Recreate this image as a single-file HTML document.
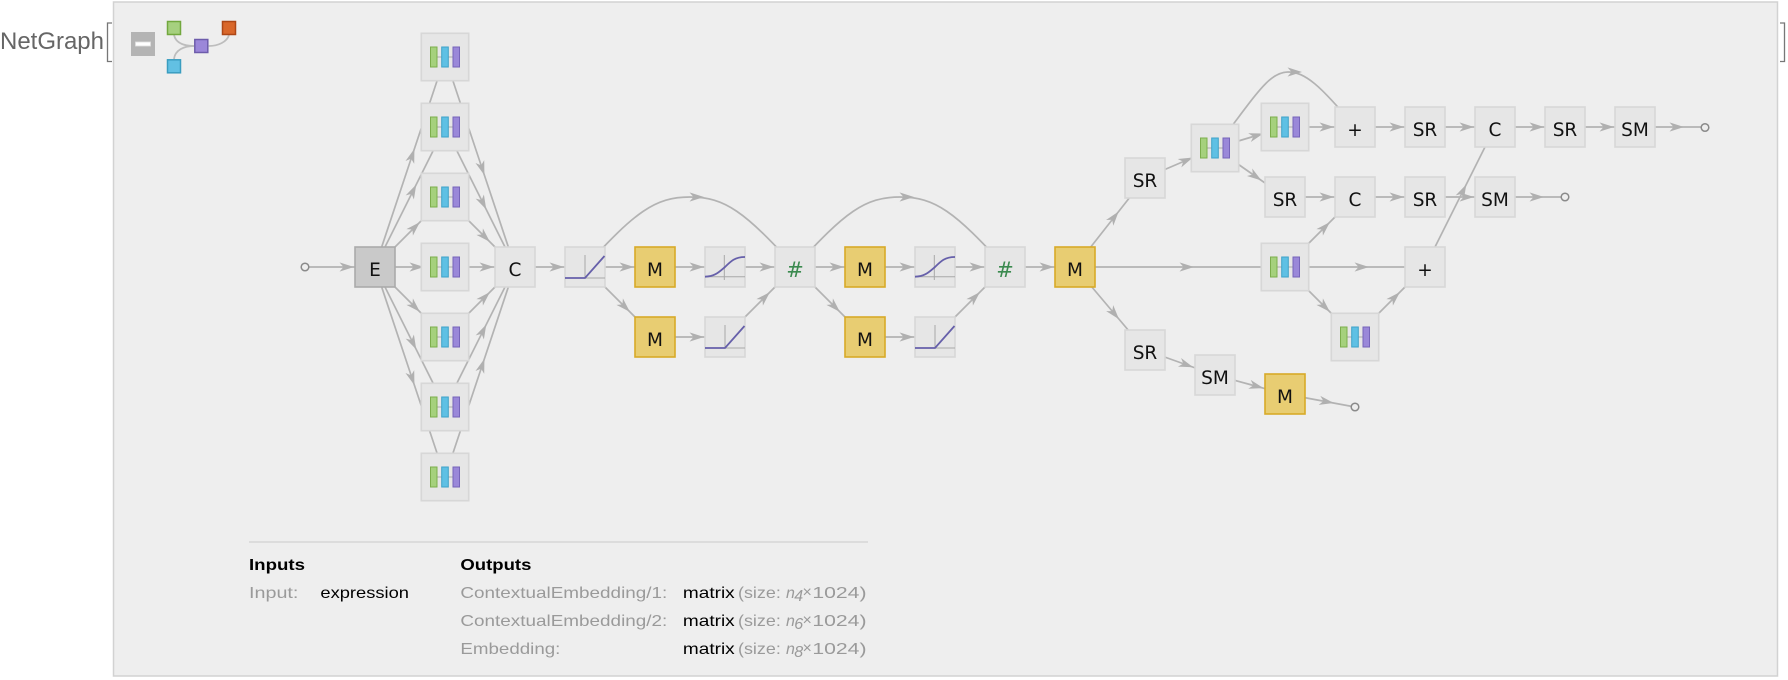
<!DOCTYPE html>
<html><head><meta charset="utf-8"><style>
html,body{margin:0;padding:0;background:#fff;}
svg{display:block;}
.e{fill:none;stroke:#b3b3b3;stroke-width:1.7;marker-mid:url(#ar);}
.t{font-family:"DejaVu Sans","Liberation Sans",sans-serif;font-size:18.5px;fill:#111;text-anchor:middle;}
.h{font-family:"DejaVu Sans","Liberation Sans",sans-serif;font-size:21px;fill:#3b8a4f;text-anchor:middle;}
.b{font-family:"Liberation Sans",sans-serif;font-size:16px;}
</style></head><body>
<svg width="1788" height="680" viewBox="0 0 1788 680" xmlns="http://www.w3.org/2000/svg">
<defs>
<marker id="ar" markerUnits="userSpaceOnUse" orient="auto" refX="0" refY="0" markerWidth="16" markerHeight="10" style="overflow:visible"><path d="M-0.5,-4.6 L14,0 L-0.5,4.6 L3.5,0 Z" fill="#b0b0b0"/></marker>
<g id="lay"><rect x="-23.7" y="-23.7" width="47.4" height="47.4" fill="#e6e6e6" stroke="#d7d7d7" stroke-width="1.6"/><line x1="-8" y1="0" x2="8" y2="0" stroke="#ababab" stroke-width="1"/><rect x="-14.5" y="-10" width="6.5" height="20" fill="#a5d17c" stroke="#7cae4c"/><rect x="-3.3" y="-10" width="6.6" height="20" fill="#5fc0e4" stroke="#3ea2c9"/><rect x="8" y="-10" width="6.5" height="20" fill="#9a88d9" stroke="#7664b9"/></g>
<rect id="nod" x="-20" y="-20" width="40" height="40" fill="#e6e6e6" stroke="#d7d7d7" stroke-width="1.6"/>
<rect id="mn" x="-20" y="-20" width="40" height="40" fill="#e8cd72" stroke="#d8aa28" stroke-width="1.6"/>
<g id="ramp"><use href="#nod"/><line x1="-20" y1="11" x2="20" y2="11" stroke="#a8a8a8" stroke-width="1"/><line x1="0" y1="-12" x2="0" y2="11" stroke="#a8a8a8" stroke-width="1"/><path d="M-20,11 L0,11 L19.5,-11" fill="none" stroke="#6660aa" stroke-width="1.8"/></g>
<g id="sig"><use href="#nod"/><line x1="-20" y1="9.7" x2="20" y2="9.7" stroke="#a8a8a8" stroke-width="1"/><line x1="-0.7" y1="-12" x2="-0.7" y2="13" stroke="#a8a8a8" stroke-width="1"/><path d="M-20,9.7 C-10,9.5 -6,5 0,0 C6,-6 10,-10 20,-10" fill="none" stroke="#6660aa" stroke-width="1.8"/></g>
</defs>

<!-- header -->
<text x="0" y="49" font-family="Liberation Sans, sans-serif" font-size="24" fill="#666" textLength="104" lengthAdjust="spacingAndGlyphs">NetGraph</text>
<path d="M112,23 L107.5,23 L107.5,61.5 L112,61.5" fill="none" stroke="#777" stroke-width="1.3"/>
<path d="M1780,23 L1784.5,23 L1784.5,61.5 L1780,61.5" fill="none" stroke="#777" stroke-width="1.3"/>

<!-- frame -->
<rect x="113.5" y="2" width="1664" height="674" fill="#eeeeee" stroke="#d2d2d2" stroke-width="1.5"/>

<!-- mini icon -->
<rect x="131" y="32" width="24" height="24" fill="#b4b4b4"/>
<rect x="135.5" y="42" width="15" height="4" fill="#fff" stroke="#e0e0e0" stroke-width="0.8"/>
<g fill="none" stroke="#bdbdbd" stroke-width="1.8">
<path d="M174,35 C176,44 186,46 194,46"/>
<path d="M194,46 C184,46 175,50 174,59"/>
<path d="M208.7,46 C218,46 227,42 229,35"/>
</g>
<rect x="167.5" y="21.5" width="13" height="13" fill="#a6d07f" stroke="#72a83e" stroke-width="1.5"/>
<rect x="194.8" y="39.5" width="13" height="13" fill="#9b87d9" stroke="#6d5cab" stroke-width="1.5"/>
<rect x="222.5" y="21.5" width="13" height="13" fill="#d9672a" stroke="#ad4716" stroke-width="1.5"/>
<rect x="167.5" y="59.8" width="13" height="13" fill="#62c0e3" stroke="#3a9dc0" stroke-width="1.5"/>

<!-- edges -->
<g>
<path class="e" d="M305,267 L340,267 L375,267"/>
<path class="e" d="M375,267 L410,162 L445,57"/>
<path class="e" d="M375,267 L410,197 L445,127"/>
<path class="e" d="M375,267 L410,232 L445,197"/>
<path class="e" d="M375,267 L410,267 L445,267"/>
<path class="e" d="M375,267 L410,302 L445,337"/>
<path class="e" d="M375,267 L410,337 L445,407"/>
<path class="e" d="M375,267 L410,372 L445,477"/>
<path class="e" d="M445,57 L480,162 L515,267"/>
<path class="e" d="M445,127 L480,197 L515,267"/>
<path class="e" d="M445,197 L480,232 L515,267"/>
<path class="e" d="M445,267 L480,267 L515,267"/>
<path class="e" d="M445,337 L480,302 L515,267"/>
<path class="e" d="M445,407 L480,337 L515,267"/>
<path class="e" d="M445,477 L480,372 L515,267"/>
<path class="e" d="M515,267 L550,267 L585,267"/>
<path class="e" d="M585,267 L620,267 L655,267"/>
<path class="e" d="M585,267 L620,302 L655,337"/>
<path class="e" d="M585,267 C635,212 655,197 690,197 C725,197 745,212 795,267"/>
<path class="e" d="M655,267 L690,267 L725,267"/>
<path class="e" d="M725,267 L760,267 L795,267"/>
<path class="e" d="M655,337 L690,337 L725,337"/>
<path class="e" d="M725,337 L760,302 L795,267"/>
<path class="e" d="M795,267 L830,267 L865,267"/>
<path class="e" d="M795,267 L830,302 L865,337"/>
<path class="e" d="M795,267 C845,212 865,197 900,197 C935,197 955,212 1005,267"/>
<path class="e" d="M865,267 L900,267 L935,267"/>
<path class="e" d="M935,267 L970,267 L1005,267"/>
<path class="e" d="M865,337 L900,337 L935,337"/>
<path class="e" d="M935,337 L970,302 L1005,267"/>
<path class="e" d="M1005,267 L1040,267 L1075,267"/>
<path class="e" d="M1075,267 L1110,222.5 L1145,178"/>
<path class="e" d="M1075,267 L1180,267 L1285,267"/>
<path class="e" d="M1075,267 L1110,308.5 L1145,350"/>
<path class="e" d="M1145,178 L1180,163 L1215,148"/>
<path class="e" d="M1215,148 L1250,137.5 L1285,127"/>
<path class="e" d="M1215,148 L1250,172.5 L1285,197"/>
<path class="e" d="M1215,148 C1255,97 1268,72 1288,72 C1305,72 1320,85 1355,127"/>
<path class="e" d="M1285,127 L1320,127 L1355,127"/>
<path class="e" d="M1355,127 L1390,127 L1425,127"/>
<path class="e" d="M1425,127 L1460,127 L1495,127"/>
<path class="e" d="M1495,127 L1530,127 L1565,127"/>
<path class="e" d="M1565,127 L1600,127 L1635,127"/>
<path class="e" d="M1635,127 L1670,127 L1705,127"/>
<path class="e" d="M1285,197 L1320,197 L1355,197"/>
<path class="e" d="M1355,197 L1390,197 L1425,197"/>
<path class="e" d="M1425,197 L1460,197 L1495,197"/>
<path class="e" d="M1495,197 L1530,197 L1565,197"/>
<path class="e" d="M1285,267 L1320,232 L1355,197"/>
<path class="e" d="M1285,267 L1355,267 L1425,267"/>
<path class="e" d="M1285,267 L1320,302 L1355,337"/>
<path class="e" d="M1355,337 L1390,302 L1425,267"/>
<path class="e" d="M1425,267 L1460,197 L1495,127"/>
<path class="e" d="M1145,350 L1180,362.5 L1215,375"/>
<path class="e" d="M1215,375 L1250,384.5 L1285,394"/>
<path class="e" d="M1285,394 L1320,400.5 L1355,407"/>
</g>

<!-- circles -->
<g fill="#eeeeee" stroke="#8a8a8a" stroke-width="1.5">
<circle cx="305" cy="267" r="3.8"/>
<circle cx="1705" cy="127.5" r="3.8"/>
<circle cx="1565" cy="197" r="3.8"/>
<circle cx="1355" cy="407" r="3.8"/>
</g>

<!-- E node -->
<rect x="355" y="247" width="40" height="40" fill="#c9c9c9" stroke="#ababab" stroke-width="1.6"/>
<text class="t" x="375" y="276">E</text>

<!-- layer column -->
<use href="#lay" x="445" y="57"/>
<use href="#lay" x="445" y="127"/>
<use href="#lay" x="445" y="197"/>
<use href="#lay" x="445" y="267"/>
<use href="#lay" x="445" y="337"/>
<use href="#lay" x="445" y="407"/>
<use href="#lay" x="445" y="477"/>

<use href="#nod" x="515" y="267"/><text class="t" x="515" y="276">C</text>

<use href="#ramp" x="585" y="267"/>
<use href="#mn" x="655" y="267"/><text class="t" x="655" y="276">M</text>
<use href="#mn" x="655" y="337"/><text class="t" x="655" y="346">M</text>
<use href="#sig" x="725" y="267"/>
<use href="#ramp" x="725" y="337"/>
<use href="#nod" x="795" y="267"/><text class="h" x="795" y="277">#</text>
<use href="#mn" x="865" y="267"/><text class="t" x="865" y="276">M</text>
<use href="#mn" x="865" y="337"/><text class="t" x="865" y="346">M</text>
<use href="#sig" x="935" y="267"/>
<use href="#ramp" x="935" y="337"/>
<use href="#nod" x="1005" y="267"/><text class="h" x="1005" y="277">#</text>
<use href="#mn" x="1075" y="267"/><text class="t" x="1075" y="276">M</text>

<use href="#nod" x="1145" y="178"/><text class="t" x="1145" y="187">SR</text>
<use href="#lay" x="1215" y="148"/>
<use href="#lay" x="1285" y="127"/>
<use href="#nod" x="1355" y="127"/><text class="t" x="1355" y="136">+</text>
<use href="#nod" x="1425" y="127"/><text class="t" x="1425" y="136">SR</text>
<use href="#nod" x="1495" y="127"/><text class="t" x="1495" y="136">C</text>
<use href="#nod" x="1565" y="127"/><text class="t" x="1565" y="136">SR</text>
<use href="#nod" x="1635" y="127"/><text class="t" x="1635" y="136">SM</text>

<use href="#nod" x="1285" y="197"/><text class="t" x="1285" y="206">SR</text>
<use href="#nod" x="1355" y="197"/><text class="t" x="1355" y="206">C</text>
<use href="#nod" x="1425" y="197"/><text class="t" x="1425" y="206">SR</text>
<use href="#nod" x="1495" y="197"/><text class="t" x="1495" y="206">SM</text>

<use href="#lay" x="1285" y="267"/>
<use href="#nod" x="1425" y="267"/><text class="t" x="1425" y="276">+</text>
<use href="#lay" x="1355" y="337"/>

<use href="#nod" x="1145" y="350"/><text class="t" x="1145" y="359">SR</text>
<use href="#nod" x="1215" y="375"/><text class="t" x="1215" y="384">SM</text>
<use href="#mn" x="1285" y="394"/><text class="t" x="1285" y="403">M</text>

<!-- bottom info -->
<line x1="249" y1="542" x2="868" y2="542" stroke="#d6d6d6" stroke-width="1.5"/>
<text class="b" x="249" y="570" font-weight="bold" fill="#000" textLength="56" lengthAdjust="spacingAndGlyphs">Inputs</text>
<text class="b" x="460.4" y="570" font-weight="bold" fill="#000" textLength="71" lengthAdjust="spacingAndGlyphs">Outputs</text>

<text class="b" x="249" y="598" fill="#9a9a9a" textLength="49.4" lengthAdjust="spacingAndGlyphs">Input:</text>
<text class="b" x="320.4" y="598" fill="#000" textLength="88.6" lengthAdjust="spacingAndGlyphs">expression</text>

<text class="b" x="460.4" y="598" fill="#9a9a9a" textLength="206.9" lengthAdjust="spacingAndGlyphs">ContextualEmbedding/1:</text>
<text class="b" x="460.4" y="626" fill="#9a9a9a" textLength="206.9" lengthAdjust="spacingAndGlyphs">ContextualEmbedding/2:</text>
<text class="b" x="460.4" y="654" fill="#9a9a9a" textLength="100" lengthAdjust="spacingAndGlyphs">Embedding:</text>

<g>
<text class="b" x="682.9" y="598" fill="#000" textLength="51.8" lengthAdjust="spacingAndGlyphs">matrix</text>
<text class="b" x="738" y="598" fill="#9a9a9a" textLength="42.8" lengthAdjust="spacingAndGlyphs">(size:</text>
<text class="b" x="786" y="598" fill="#9a9a9a" font-style="italic">n</text>
<text class="b" x="794.3" y="601" fill="#9a9a9a" font-size="10" font-style="italic">4</text>
<text class="b" x="802.5" y="597" fill="#9a9a9a" font-size="11">×</text>
<text class="b" x="812.4" y="598" fill="#9a9a9a" textLength="54.1" lengthAdjust="spacingAndGlyphs">1024)</text>
</g>
<g>
<text class="b" x="682.9" y="626" fill="#000" textLength="51.8" lengthAdjust="spacingAndGlyphs">matrix</text>
<text class="b" x="738" y="626" fill="#9a9a9a" textLength="42.8" lengthAdjust="spacingAndGlyphs">(size:</text>
<text class="b" x="786" y="626" fill="#9a9a9a" font-style="italic">n</text>
<text class="b" x="794.3" y="629" fill="#9a9a9a" font-size="10" font-style="italic">6</text>
<text class="b" x="802.5" y="625" fill="#9a9a9a" font-size="11">×</text>
<text class="b" x="812.4" y="626" fill="#9a9a9a" textLength="54.1" lengthAdjust="spacingAndGlyphs">1024)</text>
</g>
<g>
<text class="b" x="682.9" y="654" fill="#000" textLength="51.8" lengthAdjust="spacingAndGlyphs">matrix</text>
<text class="b" x="738" y="654" fill="#9a9a9a" textLength="42.8" lengthAdjust="spacingAndGlyphs">(size:</text>
<text class="b" x="786" y="654" fill="#9a9a9a" font-style="italic">n</text>
<text class="b" x="794.3" y="657" fill="#9a9a9a" font-size="10" font-style="italic">8</text>
<text class="b" x="802.5" y="653" fill="#9a9a9a" font-size="11">×</text>
<text class="b" x="812.4" y="654" fill="#9a9a9a" textLength="54.1" lengthAdjust="spacingAndGlyphs">1024)</text>
</g>
</svg>
</body></html>
